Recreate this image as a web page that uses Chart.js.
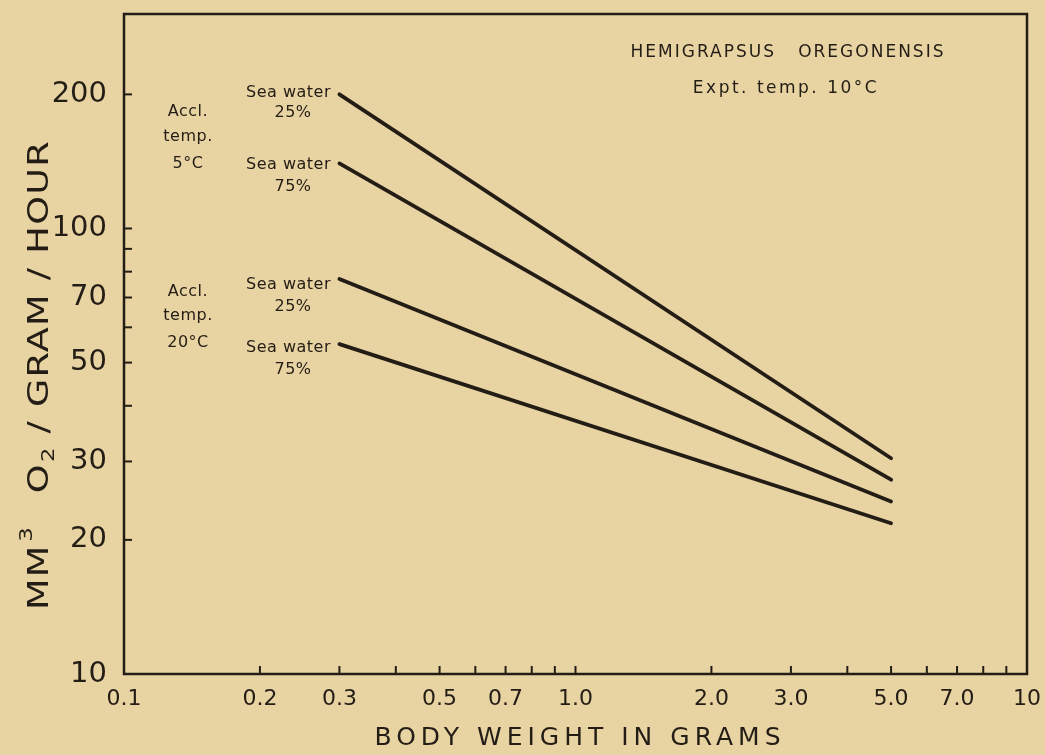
<!DOCTYPE html>
<html>
<head>
<meta charset="utf-8">
<script src="https://cdn.jsdelivr.net/npm/chart.js@4/dist/chart.umd.min.js"></script>
<style>
  html, body { margin: 0; padding: 0; background: #e8d3a3; }
  #wrap { width: 1045px; height: 755px; }
</style>
</head>
<body>
<div id="wrap"><canvas id="grafico"></canvas></div>
<script>
// datos
const pesos = [0.3, 5.0];
const acl5_agua25 = [200, 30.5];
const acl5_agua75 = [140, 27.3];
const acl20_agua25 = [77, 24.4];
const acl20_agua75 = [55, 21.8];

const xEtiquetas = [0.1, 0.2, 0.3, 0.5, 0.7, 1, 2, 3, 5, 7, 10];
const xTextos = ['0.1', '0.2', '0.3', '0.5', '0.7', '1.0', '2.0', '3.0', '5.0', '7.0', '10'];
const xMarcas = [0.2, 0.3, 0.4, 0.5, 0.6, 0.7, 0.8, 0.9, 1, 2, 3, 4, 5, 6, 7, 8, 9];
const yEtiquetas = [10, 20, 30, 50, 70, 100, 200];
const yMarcas = [20, 30, 40, 50, 60, 70, 80, 90, 100, 200];

const tinta = '#231d15';
const fuente = '"DejaVu Sans", "Liberation Sans", sans-serif';

const serie = (valores) => ({
    data: pesos.map((x, i) => ({ x: x, y: valores[i] })),
    borderColor: tinta,
    borderWidth: 3.8,
    pointRadius: 0,
    borderCapStyle: 'round',
    fill: false
});

const textos = {
    id: 'textos',
    afterDraw(chart) {
        const ctx = chart.ctx;
        const a = chart.chartArea;
        const sx = chart.scales.x, sy = chart.scales.y;
        ctx.save();
        // marco
        ctx.strokeStyle = tinta;
        ctx.lineWidth = 2.5;
        ctx.strokeRect(a.left, a.top, a.right - a.left, a.bottom - a.top);
        // marcas hacia dentro
        ctx.lineWidth = 2;
        xMarcas.forEach(v => {
            const px = sx.getPixelForValue(v);
            ctx.beginPath(); ctx.moveTo(px, a.bottom); ctx.lineTo(px, a.bottom - 8); ctx.stroke();
        });
        yMarcas.forEach(v => {
            const py = sy.getPixelForValue(v);
            ctx.beginPath(); ctx.moveTo(a.left, py); ctx.lineTo(a.left + 8, py); ctx.stroke();
        });

        ctx.fillStyle = tinta;
        ctx.textAlign = 'center';
        ctx.textBaseline = 'middle';

        // titulo eje x
        ctx.font = '25px ' + fuente;
        ctx.letterSpacing = '5px';
        ctx.fillText('BODY WEIGHT IN GRAMS', 580, 738);

        // titulo eje y (rotado, ajustado al largo de la figura)
        ctx.save();
        ctx.translate(40, 375);
        ctx.rotate(-Math.PI / 2);
        ctx.textAlign = 'left';
        ctx.letterSpacing = '1px';
        const partes = [
            ['MM', 29, 0, 2], ['3', 18, -13, 26],
            ['O', 29, 0, 1], ['2', 18, 9, 10],
            ['/ GRAM / HOUR', 29, 0, 0]
        ];
        let total = 0;
        partes.forEach(p => { ctx.font = p[1] + 'px ' + fuente; total += ctx.measureText(p[0]).width + p[3]; });
        ctx.scale(470 / total, 1);
        let x0 = -235 * total / 470;
        partes.forEach(p => {
            ctx.font = p[1] + 'px ' + fuente;
            ctx.fillText(p[0], x0, p[2]);
            x0 += ctx.measureText(p[0]).width + p[3];
        });
        ctx.restore();

        ctx.font = '17px ' + fuente;
        ctx.letterSpacing = '2px';
        ctx.fillText('HEMIGRAPSUS   OREGONENSIS', 788, 53);
        ctx.letterSpacing = '2.5px';
        ctx.fillText('Expt. temp. 10°C', 786, 89);

        ctx.font = '16px ' + fuente;
        ctx.letterSpacing = '0.5px';
        [['Accl.', 112], ['temp.', 137], ['5°C', 164]].forEach(t => ctx.fillText(t[0], 188, t[1]));
        [['Accl.', 292], ['temp.', 316], ['20°C', 343]].forEach(t => ctx.fillText(t[0], 188, t[1]));

        const etiquetas = [
            ['Sea water', 93, '25%', 113],
            ['Sea water', 165, '75%', 187],
            ['Sea water', 285, '25%', 307],
            ['Sea water', 348, '75%', 370]
        ];
        etiquetas.forEach(e => {
            ctx.textAlign = 'right';
            ctx.fillText(e[0], 331, e[1]);
            ctx.textAlign = 'center';
            ctx.fillText(e[2], 293, e[3]);
        });
        ctx.restore();
    }
};

new Chart(document.getElementById('grafico'), {
    type: 'line',
    data: {
        datasets: [
            serie(acl5_agua25),
            serie(acl5_agua75),
            serie(acl20_agua25),
            serie(acl20_agua75)
        ]
    },
    options: {
        responsive: true,
        maintainAspectRatio: false,
        animation: false,
        layout: { padding: { left: 0, right: 18, top: 14, bottom: 0 } },
        plugins: { legend: { display: false }, tooltip: { enabled: false } },
        scales: {
            x: {
                type: 'logarithmic',
                min: 0.1,
                max: 10,
                afterBuildTicks: (s) => { s.ticks = xEtiquetas.map(v => ({ value: v })); },
                afterFit: (s) => { s.height = 81; s.paddingLeft = 0; s.paddingRight = 0; },
                grid: { display: false },
                border: { display: false },
                ticks: {
                    color: tinta,
                    font: { family: fuente, size: 22 },
                    padding: 4,
                    maxRotation: 0,
                    autoSkip: false,
                    callback: (v) => {
                        const i = xEtiquetas.indexOf(v);
                        return i >= 0 ? xTextos[i] : '';
                    }
                }
            },
            y: {
                type: 'logarithmic',
                min: 10,
                max: 303,
                afterBuildTicks: (s) => { s.ticks = yEtiquetas.map(v => ({ value: v })); },
                afterFit: (s) => { s.width = 124; s.paddingTop = 0; s.paddingBottom = 0; },
                grid: { display: false },
                border: { display: false },
                ticks: {
                    color: tinta,
                    font: { family: fuente, size: 29 },
                    padding: 9,
                    autoSkip: false,
                    callback: (v) => String(v)
                }
            }
        }
    },
    plugins: [textos]
});
</script>
</body>
</html>
